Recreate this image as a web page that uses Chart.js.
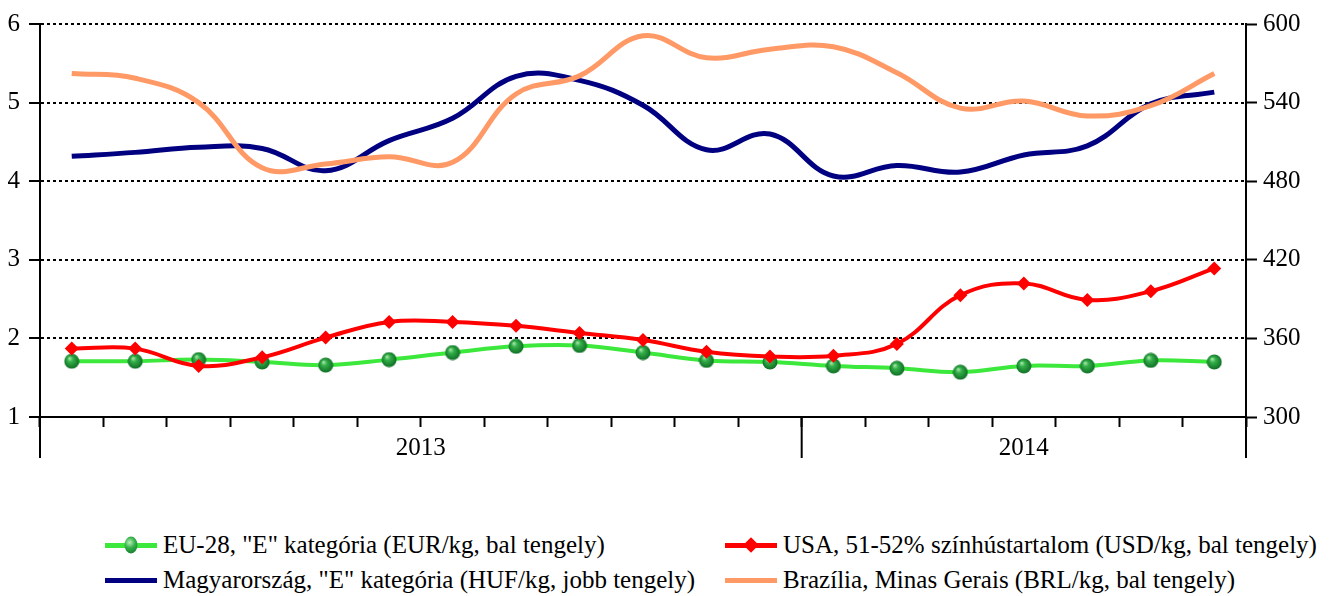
<!DOCTYPE html>
<html>
<head>
<meta charset="utf-8">
<script src="https://cdn.jsdelivr.net/npm/chart.js@4.4.1/dist/chart.umd.min.js"></script>
<style>
  body { margin: 0; background: #fff; }
  #wrap { position: relative; width: 1334px; height: 596px; }
  #chartBox { position: absolute; left: 0; top: 0; width: 1334px; height: 470px; }
  #legend {
    position: absolute; left: 105px; top: 527px;
    display: grid; grid-template-columns: 620px auto; grid-auto-rows: 35px;
    font-family: "Liberation Serif", serif; font-size: 25px; color: #000;
  }
  .item { display: flex; align-items: center; white-space: nowrap; }
  .swatch { position: relative; width: 52px; height: 20px; margin-right: 6px; }
  .swatch .ln { position: absolute; left: 0; right: 0; top: 8px; height: 5px; }
  .swatch .mk { position: absolute; left: 50%; top: 50%; }
</style>
</head>
<body>
<div id="wrap">
  <div id="chartBox"><canvas id="priceChart"></canvas></div>
  <div id="legend"></div>
</div>
<script>
// months, 2013 jan - 2014 jul
const categories = ['2013-01', '2013-02', '2013-03', '2013-04', '2013-05', '2013-06',
                    '2013-07', '2013-08', '2013-09', '2013-10', '2013-11', '2013-12',
                    '2014-01', '2014-02', '2014-03', '2014-04', '2014-05', '2014-06', '2014-07'];

// left axis
const eu28 = [1.71, 1.71, 1.73, 1.70, 1.66, 1.73, 1.82, 1.90, 1.91, 1.82, 1.72, 1.70,
              1.65, 1.62, 1.57, 1.65, 1.65, 1.72, 1.70];
const usa = [1.87, 1.87, 1.65, 1.76, 2.01, 2.21, 2.21, 2.16, 2.07, 1.98, 1.83, 1.77,
             1.78, 1.93, 2.55, 2.70, 2.49, 2.60, 2.89];
const brazil = [5.37, 5.31, 5.00, 4.17, 4.22, 4.31, 4.24, 5.11, 5.34, 5.85, 5.57, 5.68,
                5.71, 5.38, 4.93, 5.02, 4.83, 4.96, 5.37];
// right axis
const hungary = [499, 502, 506, 505, 488, 511, 528, 560, 557, 538, 504, 516,
                 484, 492, 487, 500, 507, 539, 548];

const leftTicks = [1, 2, 3, 4, 5, 6];
const rightTicks = [300, 360, 420, 480, 540, 600];

const seriesNames = [
    'EU-28, "E" kategória (EUR/kg, bal tengely)',
    'USA, 51-52% színhústartalom (USD/kg, bal tengely)',
    'Magyarország, "E" kategória (HUF/kg, jobb tengely)',
    'Brazília, Minas Gerais (BRL/kg, bal tengely)'
];

// little shaded green ball used as marker
function makeBall(size) {
    const c = document.createElement('canvas');
    c.width = size; c.height = size;
    const g = c.getContext('2d');
    const r = size / 2;
    const grad = g.createRadialGradient(r * 0.7, r * 0.6, 0, r, r, r);
    grad.addColorStop(0, '#b8f0b8');
    grad.addColorStop(0.35, '#35b04a');
    grad.addColorStop(1, '#0b6a22');
    g.fillStyle = grad;
    g.beginPath();
    g.arc(r, r, r - 0.5, 0, Math.PI * 2);
    g.fill();
    return c;
}
const ball = makeBall(16);

Chart.defaults.font.family = '"Liberation Serif", serif';
Chart.defaults.font.size = 25;
Chart.defaults.color = '#000';

// year labels and long ticks under the month ticks
const yearAxis = {
    id: 'yearAxis',
    afterDraw(chart) {
        const x = chart.scales.x;
        const ctx = chart.ctx;
        const half = (x.getPixelForValue(1) - x.getPixelForValue(0)) / 2;
        const groups = [];
        categories.forEach((c, i) => {
            const y = c.slice(0, 4);
            if (!groups.length || groups[groups.length - 1].year !== y) groups.push({ year: y, first: i, last: i });
            else groups[groups.length - 1].last = i;
        });
        ctx.save();
        ctx.strokeStyle = '#000';
        ctx.lineWidth = 2;
        ctx.fillStyle = '#000';
        ctx.font = '25px "Liberation Serif"';
        ctx.textAlign = 'center';
        ctx.textBaseline = 'middle';
        groups.forEach((g, k) => {
            const l = x.getPixelForValue(g.first) - half;
            const r = x.getPixelForValue(g.last) + half;
            ctx.beginPath();
            if (k === 0) { ctx.moveTo(l, x.top); ctx.lineTo(l, x.top + 41); }
            ctx.moveTo(r, x.top);
            ctx.lineTo(r, x.top + 41);
            ctx.stroke();
            ctx.fillText(g.year, (l + r) / 2, x.top + 31);
        });
        ctx.restore();
    }
};

const ctx = document.getElementById('priceChart').getContext('2d');
const priceChart = new Chart(ctx, {
    type: 'line',
    data: {
        labels: categories,
        datasets: [{
            label: seriesNames[0],
            data: eu28,
            yAxisID: 'y',
            borderColor: '#3be83b',
            borderWidth: 4,
            pointStyle: ball,
            tension: 0.4,
            order: 1
        }, {
            label: seriesNames[1],
            data: usa,
            yAxisID: 'y',
            borderColor: '#ff0000',
            backgroundColor: '#ff0000',
            borderWidth: 4,
            pointStyle: 'rectRot',
            pointRadius: 7,
            pointBorderWidth: 0,
            tension: 0.4,
            order: 0
        }, {
            label: seriesNames[2],
            data: hungary,
            yAxisID: 'y1',
            borderColor: '#000080',
            borderWidth: 5,
            pointRadius: 0,
            tension: 0.4,
            order: 3
        }, {
            label: seriesNames[3],
            data: brazil,
            yAxisID: 'y',
            borderColor: '#ff9966',
            borderWidth: 5,
            pointRadius: 0,
            tension: 0.4,
            order: 2
        }]
    },
    options: {
        responsive: true,
        maintainAspectRatio: false,
        animation: false,
        layout: { padding: { top: 21, left: 0, right: 0, bottom: 0 } },
        plugins: {
            legend: { display: false },
            tooltip: { enabled: false }
        },
        scales: {
            x: {
                offset: true,
                grid: {
                    offset: true,
                    drawOnChartArea: false,
                    tickLength: 10,
                    tickWidth: 2,
                    tickColor: '#000'
                },
                border: { color: '#000', width: 2 },
                ticks: { display: false },
                afterFit(scale) { scale.height = 53; }
            },
            y: {
                position: 'left',
                min: leftTicks[0],
                max: leftTicks[leftTicks.length - 1],
                afterBuildTicks(scale) { scale.ticks = leftTicks.map(v => ({ value: v })); },
                grid: {
                    color: '#000',
                    lineWidth: 2,
                    tickLength: 11,
                    tickWidth: 2,
                    tickColor: '#000'
                },
                border: { color: '#000', width: 2, dash: [3, 3] },
                ticks: { padding: 9 },
                afterFit(scale) { scale.width = 40; }
            },
            y1: {
                position: 'right',
                min: rightTicks[0],
                max: rightTicks[rightTicks.length - 1],
                afterBuildTicks(scale) { scale.ticks = rightTicks.map(v => ({ value: v })); },
                grid: {
                    drawOnChartArea: false,
                    tickLength: 11,
                    tickWidth: 2,
                    tickColor: '#000'
                },
                border: { color: '#000', width: 2 },
                ticks: { padding: 6 },
                afterFit(scale) { scale.width = 88; }
            }
        }
    },
    plugins: [yearAxis]
});

// HTML legend, two columns like the original
const legendBox = document.getElementById('legend');
priceChart.data.datasets.forEach(ds => {
    const item = document.createElement('div');
    item.className = 'item';
    const sw = document.createElement('div');
    sw.className = 'swatch';
    const ln = document.createElement('div');
    ln.className = 'ln';
    ln.style.background = ds.borderColor;
    sw.appendChild(ln);
    if (ds.pointStyle === 'rectRot') {
        const mk = document.createElement('div');
        mk.className = 'mk';
        mk.style.cssText += 'width:11px;height:11px;background:' + ds.borderColor + ';transform:translate(-50%,-50%) rotate(45deg);';
        sw.appendChild(mk);
    } else if (ds.pointStyle instanceof HTMLCanvasElement) {
        const mk = document.createElement('div');
        mk.className = 'mk';
        mk.style.cssText += 'width:13px;height:17px;border-radius:50%;transform:translate(-50%,-50%);' +
            'background:radial-gradient(circle at 40% 35%, #b8f0b8 0%, #35b04a 40%, #0b6a22 100%);';
        sw.appendChild(mk);
    }
    item.appendChild(sw);
    const txt = document.createElement('span');
    txt.textContent = ds.label;
    item.appendChild(txt);
    legendBox.appendChild(item);
});
</script>
</body>
</html>
